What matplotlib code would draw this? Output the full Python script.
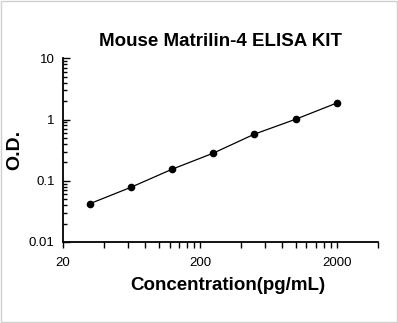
import numpy as np
import matplotlib.pyplot as plt
from matplotlib.ticker import FixedLocator, NullFormatter

conc = [31.25, 62.5, 125, 250, 500, 1000, 2000]
od = [0.042, 0.078, 0.154, 0.282, 0.577, 1.01, 1.86]
xticks = [20, 200, 2000]
yticks = [0.01, 0.1, 1, 10]
ytick_labels = ['0.01', '0.1', '1', '10']

plt.rcParams['font.family'] = ['Liberation Sans', 'DejaVu Sans']

fig = plt.figure(figsize=(3.98, 3.23), dpi=100)
ax = fig.add_axes([0.1583, 0.2508, 0.7914, 0.5687])

ax.plot(conc, od, color='black', linewidth=0.9, marker='o', markersize=4.5)

ax.set_xscale('log')
ax.set_yscale('log')
ax.set_xlim(20, 4000)
ax.set_ylim(0.01, 10)

ax.xaxis.set_major_locator(FixedLocator(xticks))
ax.set_xticklabels([str(v) for v in xticks])
minor_x = [20 * k for k in range(2, 10)] + [200 * k for k in range(2, 10)] + [4000]
ax.xaxis.set_minor_locator(FixedLocator(minor_x))
ax.xaxis.set_minor_formatter(NullFormatter())

ax.yaxis.set_major_locator(FixedLocator(yticks))
ax.set_yticklabels(ytick_labels)
minor_y = [m * 10.0 ** e for e in range(-2, 1) for m in range(2, 10)]
ax.yaxis.set_minor_locator(FixedLocator(minor_y))
ax.yaxis.set_minor_formatter(NullFormatter())

ax.tick_params(axis='x', which='major', direction='out', length=4, width=1, labelsize=9.5, pad=7)
ax.tick_params(axis='x', which='minor', direction='out', length=4, width=1)
ax.tick_params(axis='y', which='major', direction='in', length=5, width=1, labelsize=9.5, pad=6)
ax.tick_params(axis='y', which='minor', direction='in', length=3, width=1)

for s in ['top', 'right']:
    ax.spines[s].set_visible(False)
for s in ['left', 'bottom']:
    ax.spines[s].set_linewidth(1.3)

ax.set_title('Mouse Matrilin-4 ELISA KIT', fontsize=13.5, fontweight='bold', pad=9)
ax.set_xlabel('Concentration(pg/mL)', fontsize=13.5, fontweight='bold')
ax.xaxis.set_label_coords(0.524, -0.19)
ax.set_ylabel('O.D.', fontsize=14, fontweight='bold')
ax.yaxis.set_label_coords(-0.127, 0.5)

border = plt.Rectangle((0.003, 0.003), 0.994, 0.994, transform=fig.transFigure,
                       fill=False, edgecolor='#d0d0d0', linewidth=1)
fig.patches.append(border)

fig.savefig('out.png', dpi=100)
